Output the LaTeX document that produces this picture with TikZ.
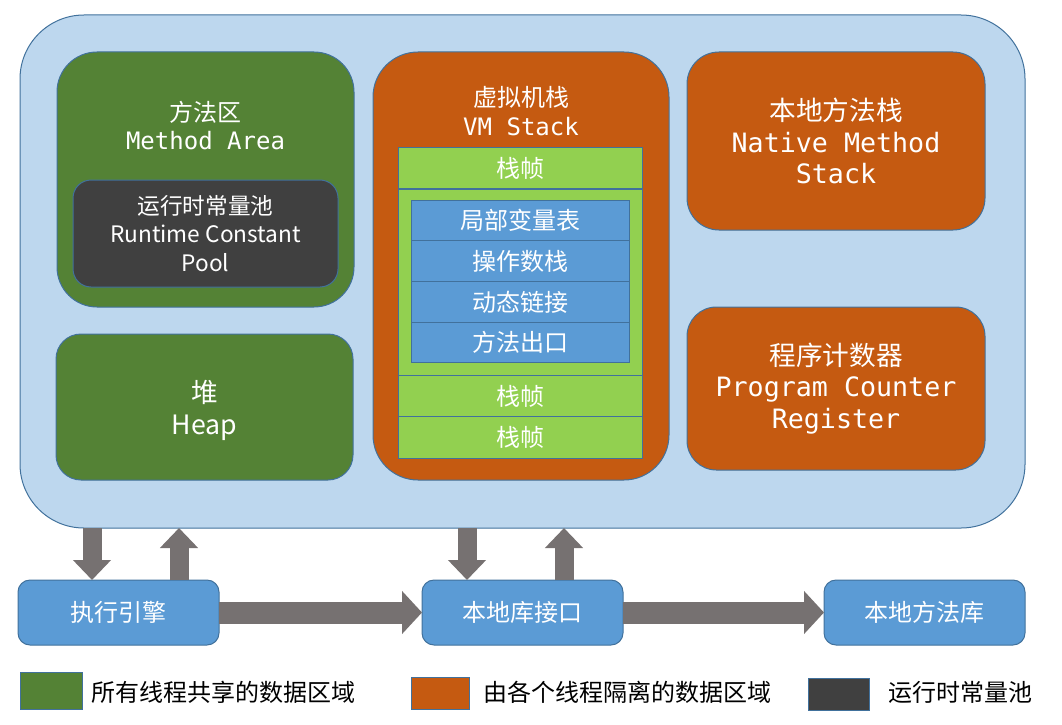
\documentclass[tikz,border=0pt]{standalone}
\usepackage{fontspec}
\setmainfont{Noto Sans CJK SC}
\setmonofont{DejaVu Sans Mono}
\usepackage{xcolor}
\usetikzlibrary{arrows.meta}
\definecolor{areablue}{HTML}{BDD7EE}
\definecolor{edgeblue}{HTML}{41719C}
\definecolor{sharegreen}{HTML}{548235}
\definecolor{poolgray}{HTML}{404040}
\definecolor{threadorange}{HTML}{C55A11}
\definecolor{framegreen}{HTML}{92D050}
\definecolor{slotblue}{HTML}{5B9BD5}
\definecolor{arrowgray}{HTML}{767171}

\begin{document}
\begin{tikzpicture}[x=0.75pt,y=-0.75pt,
  box/.style={draw=edgeblue,line width=0.75pt,inner sep=0pt,outer sep=0pt,text=white,align=center},
  big/.style={font=\fontsize{20pt}{23.5pt}\selectfont},
  small/.style={font=\fontsize{18pt}{21.5pt}\selectfont},
  frame/.style={box,fill=framegreen,minimum width=183pt,minimum height=31pt,small},
  slot/.style={box,fill=slotblue,minimum width=163.5pt,minimum height=30.5pt,small},
  lib/.style={box,fill=slotblue,rounded corners=9pt,minimum width=150.75pt,minimum height=48.75pt,small},
  bigflow/.style={line width=16.5pt,arrowgray,-{Triangle[length=15pt,width=31.5pt]}},
  flow/.style={line width=14.25pt,arrowgray,-{Triangle[length=15pt,width=27.75pt]}},
  key/.style={box,minimum width=45pt,minimum height=24pt},
  keytext/.style={anchor=west,inner sep=0pt,small}]
\useasboundingbox (0,0) rectangle (1062,724);
\node [box,fill=areablue,rounded corners=48pt,minimum width=753.75pt,minimum height=384.75pt] (jvm) at (522.5,271.5) {};
\node [box,fill=sharegreen,rounded corners=30pt,minimum width=222.75pt,minimum height=191.25pt] (method) at (205.5,179.5) {};
\node [text=white,align=center,small] (methodtext) at (205.5,125.5) {方法区\\{\ttfamily Method Area}};
\node [box,fill=poolgray,rounded corners=13.5pt,minimum width=198.75pt,minimum height=80.25pt,font=\fontsize{17pt}{21.5pt}\selectfont] (pool) at (205.5,233.5) {运行时常量池\\Runtime Constant\\Pool};
\node [box,fill=sharegreen,rounded corners=18.75pt,minimum width=222.75pt,minimum height=109.5pt,big] (heap) at (204.5,407) {};
\node [text=white,align=center,big] (heaptext) at (204.5,410.5) {堆\\Heap};
\node [box,fill=threadorange,rounded corners=33.75pt,minimum width=222pt,minimum height=321pt] (vm) at (521,266) {};
\node [text=white,align=center,small] (vmtext) at (521,111) {虚拟机栈\\{\ttfamily VM Stack}};
\node [frame] (frame1) at (520,168) {栈帧};
\node [frame,minimum height=139.5pt] (frame2) at (520,282) {};
\node [frame] (frame3) at (520,396) {栈帧};
\node [frame] (frame4) at (520,437.5) {栈帧};
\node [slot] (locals) at (520,220.4) {局部变量表};
\node [slot] (operand) at (520,261.1) {操作数栈};
\node [slot] (dynlink) at (520,301.9) {动态链接};
\node [slot] (retaddr) at (520,342.6) {方法出口};
\node [box,fill=threadorange,rounded corners=24pt,minimum width=223.5pt,minimum height=133.5pt,big] (native) at (836,141) {本地方法栈\\{\ttfamily Native Method}\\{\ttfamily Stack}};
\node [box,fill=threadorange,rounded corners=22pt,minimum width=223.5pt,minimum height=122.25pt,big] (pc) at (836,388.5) {程序计数器\\{\ttfamily Program Counter}\\{\ttfamily Register}};
\node [lib] (engine) at (118.5,612.5) {执行引擎};
\node [lib] (nativeif) at (522.5,612.5) {本地库接口};
\node [lib] (nativelib) at (924.5,612.5) {本地方法库};
\coordinate (down1) at (92,0);
\coordinate (up1) at (179,0);
\coordinate (down2) at (467,0);
\coordinate (up2) at (564,0);
\draw [flow] (down1 |- jvm.south) -- (down1 |- engine.north);
\draw [flow] (up1 |- engine.north) -- (up1 |- jvm.south);
\draw [flow] (down2 |- jvm.south) -- (down2 |- nativeif.north);
\draw [flow] (up2 |- nativeif.north) -- (up2 |- jvm.south);
\draw [bigflow] (engine.east) -- (nativeif.west);
\draw [bigflow] (nativeif.east) -- (nativelib.west);
\node [key,fill=sharegreen,minimum width=46.5pt,minimum height=27.75pt] (keyshare) at (51,690.5) {};
\node [keytext] (keysharetext) at (91,692) {所有线程共享的数据区域};
\node [key,fill=threadorange,minimum width=43.5pt] (keythread) at (440.5,693) {};
\node [keytext] (keythreadtext) at (483,692) {由各个线程隔离的数据区域};
\node [key,fill=poolgray,minimum width=45.75pt] (keypool) at (838.5,694) {};
\node [keytext] (keypooltext) at (888,692) {运行时常量池};
\end{tikzpicture}
\end{document}
